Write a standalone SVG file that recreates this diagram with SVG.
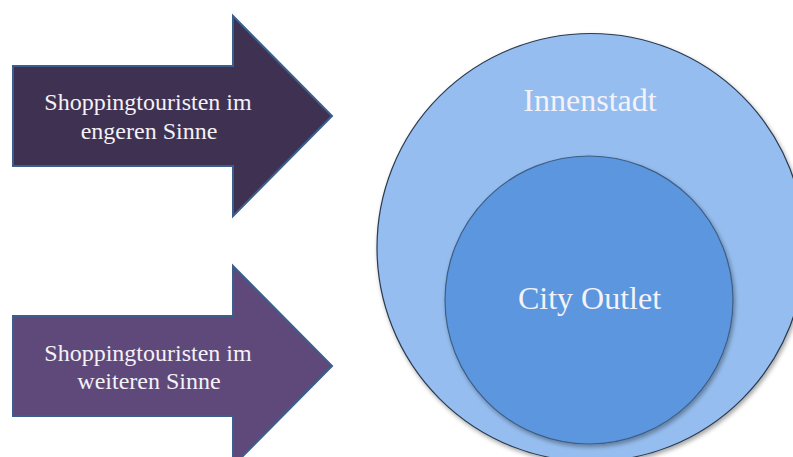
<svg xmlns="http://www.w3.org/2000/svg" width="793" height="457" viewBox="0 0 793 457">
<defs>
<filter id="shadow" x="-10%" y="-10%" width="120%" height="120%">
<feDropShadow dx="1.5" dy="2.5" stdDeviation="2" flood-color="#000000" flood-opacity="0.35"/>
</filter>
</defs>
<style>
.arrow{stroke:#3A5F8C;stroke-width:2;stroke-linejoin:miter}
.lbl{font-family:"Liberation Serif","Times New Roman",serif;fill:#F4F2F7;text-anchor:middle}
.small{font-size:24px}
.big{font-size:32px}
.circ{filter:url(#shadow);stroke-width:1.2}
</style>
<rect width="793" height="457" fill="#FFFFFF"/>
<g id="arrow1">
<path class="arrow" fill="#3F3151" d="M13,66 H233 V16 L332,116 L233,216 V166 H13 Z"/>
<text class="lbl small" x="148" y="110">Shoppingtouristen im</text>
<text class="lbl small" x="149" y="139">engeren Sinne</text>
</g>
<g id="arrow2">
<path class="arrow" fill="#5F497A" d="M13,316 H233 V266 L332,366 L233,466 V416 H13 Z"/>
<text class="lbl small" x="148" y="361">Shoppingtouristen im</text>
<text class="lbl small" x="149" y="389">weiteren Sinne</text>
</g>
<g id="innenstadt">
<circle class="circ" cx="591" cy="247.5" r="214" fill="#95BDEF" stroke="#2A3A50"/>
<text class="lbl big" x="590" y="111">Innenstadt</text>
</g>
<g id="cityoutlet">
<circle class="circ" cx="589" cy="300" r="144" fill="#5B96DE" stroke="#3E5F86"/>
<text class="lbl big" x="589.5" y="309">City Outlet</text>
</g>
</svg>
